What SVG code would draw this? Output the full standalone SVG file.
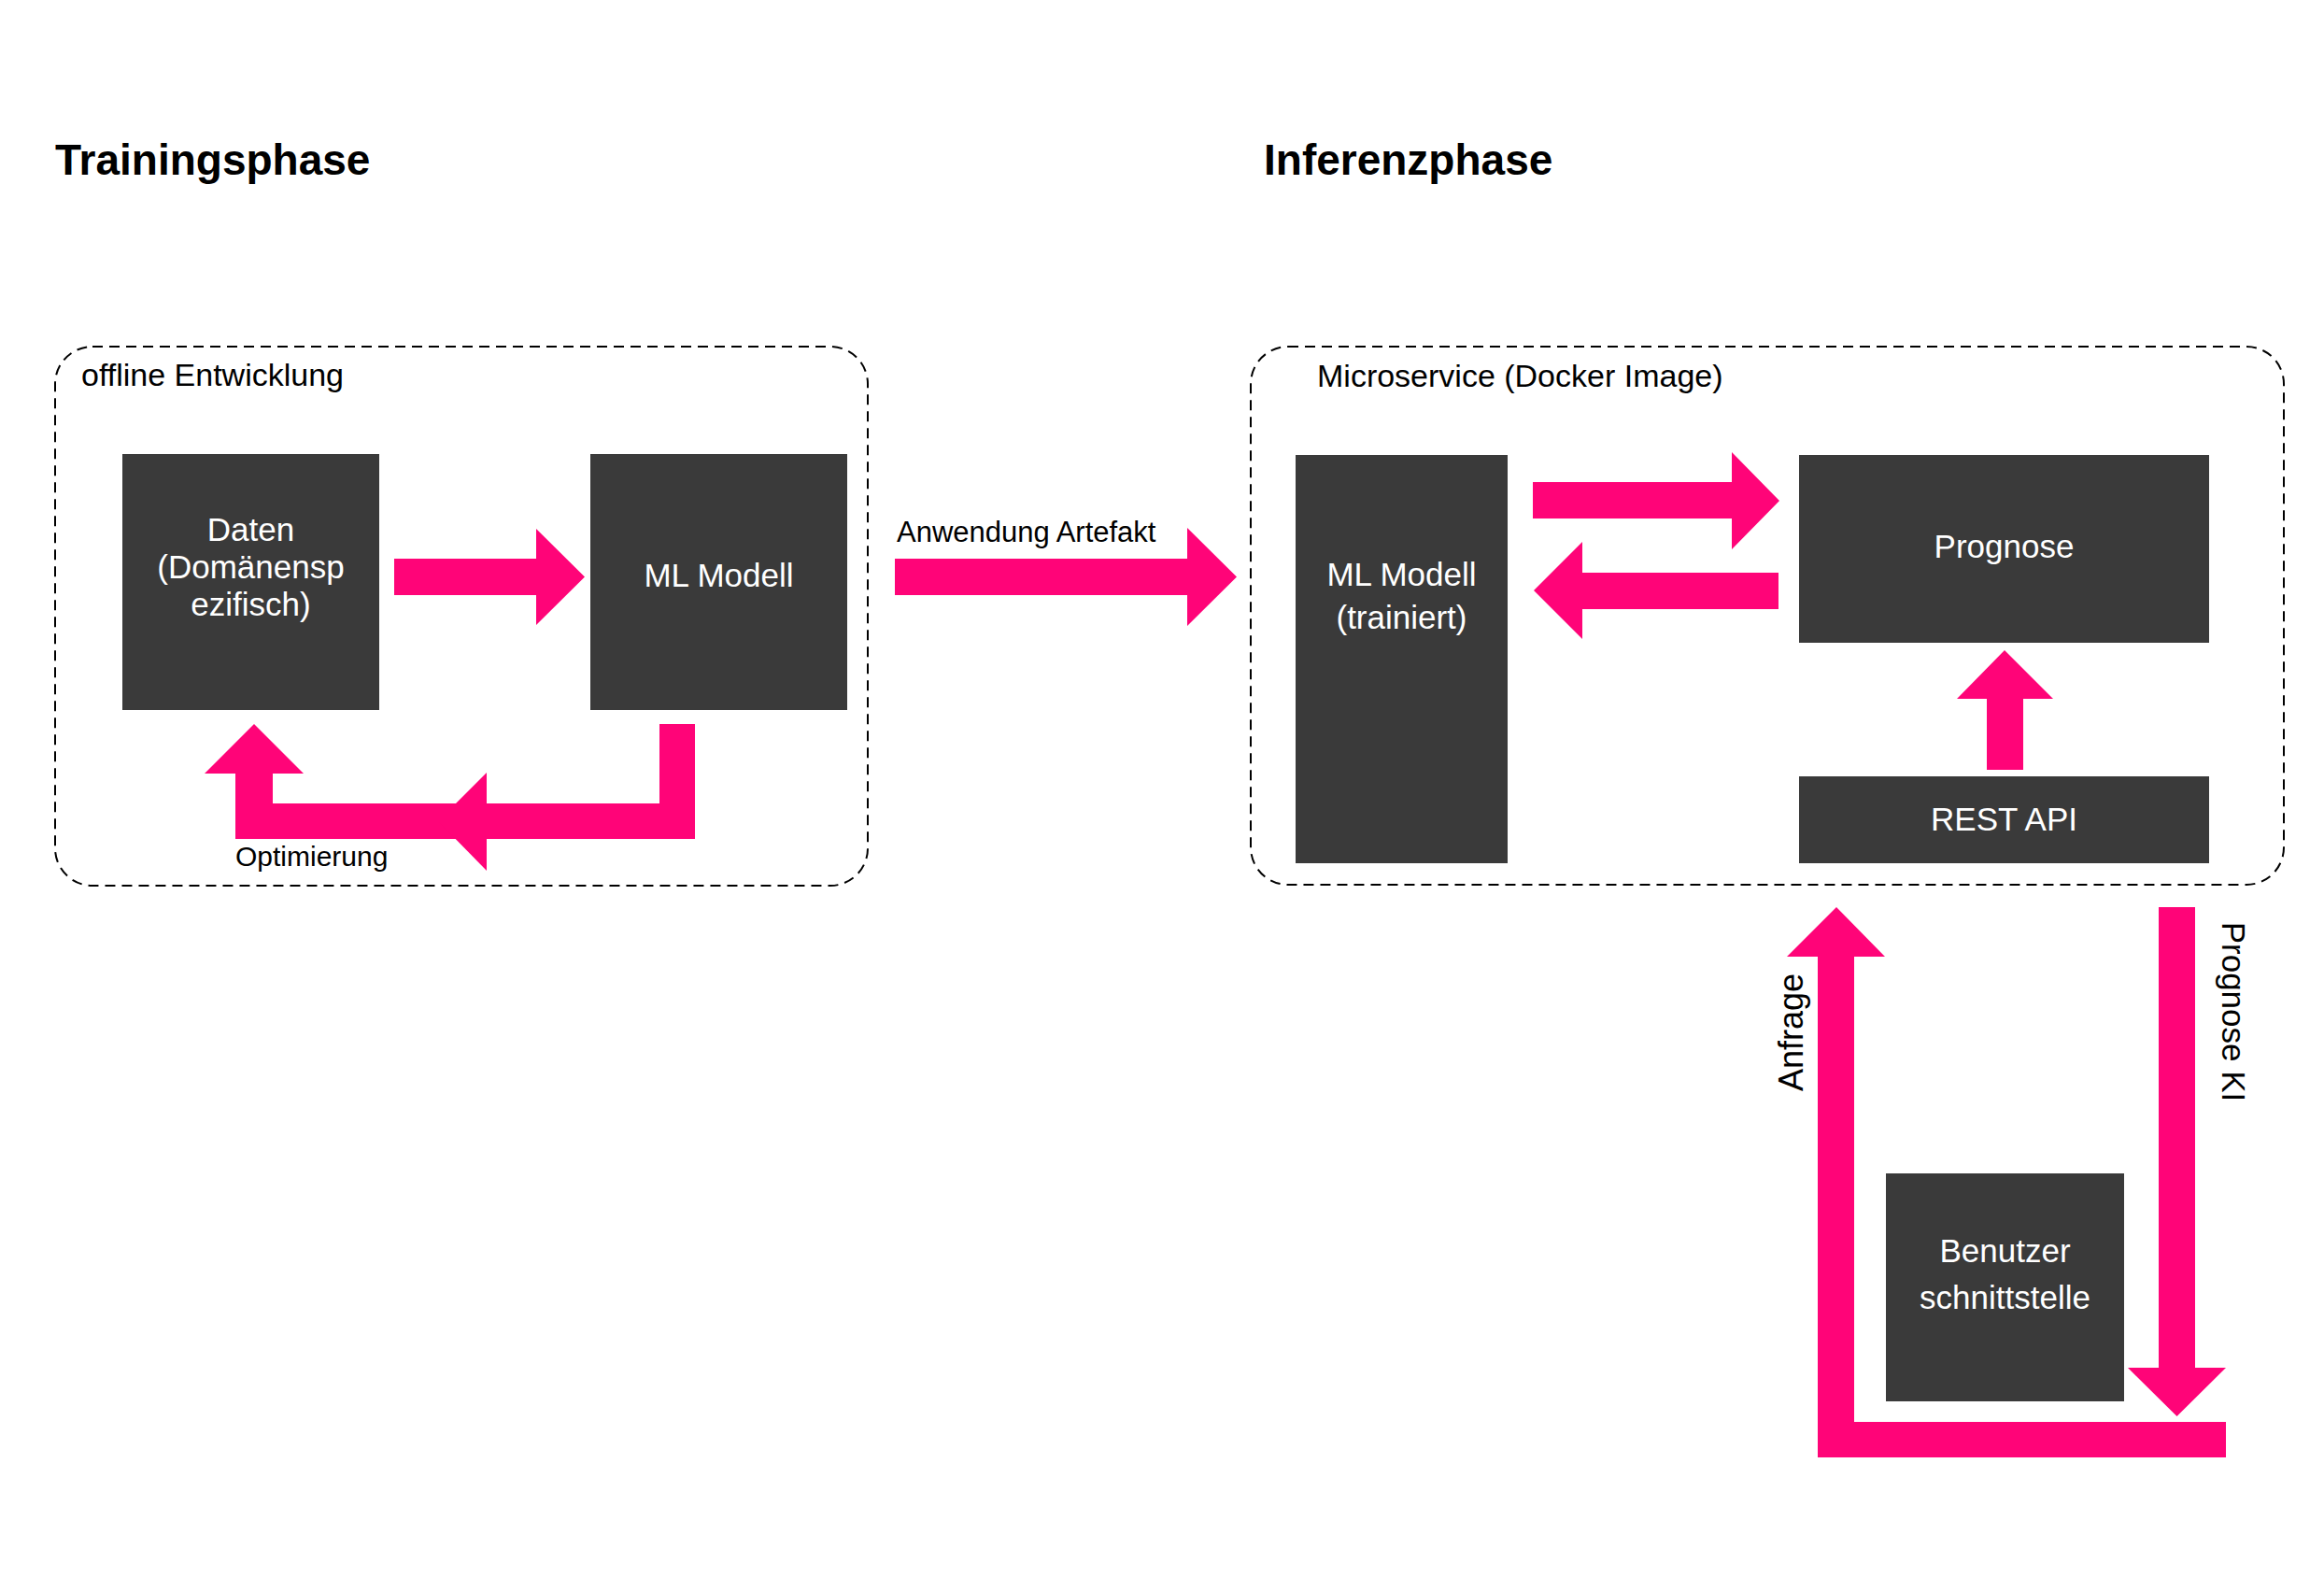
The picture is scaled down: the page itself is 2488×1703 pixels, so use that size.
<svg xmlns="http://www.w3.org/2000/svg" width="2488" height="1703" viewBox="0 0 2488 1703">
<style>
.title{font-family:"Liberation Sans",Arial,sans-serif;font-weight:bold;font-size:46px;fill:#000}
.lbl{font-family:"Liberation Sans",Arial,sans-serif;font-size:34px;fill:#000}
.small{font-family:"Liberation Sans",Arial,sans-serif;font-size:31px;fill:#000}
.node rect{fill:#3a3a3a}
.node text{font-family:"Liberation Sans",Arial,sans-serif;font-size:35px;fill:#fff;text-anchor:middle}
.container{fill:none;stroke:#000;stroke-width:2;stroke-dasharray:11 7}
.arrow{fill:#ff0478}
</style>
<rect width="2488" height="1703" fill="#fff"/>
<text class="title" x="59" y="187">Trainingsphase</text>
<text class="title" x="1353" y="187">Inferenzphase</text>

<g id="container-offline">
<rect class="container" x="59" y="371" width="870" height="577" rx="40" ry="40"/>
<text class="lbl" x="87" y="413">offline Entwicklung</text>
</g>
<g id="container-microservice">
<rect class="container" x="1339" y="371" width="1106" height="576" rx="40" ry="40"/>
<text class="lbl" x="1410" y="414">Microservice (Docker Image)</text>
</g>

<g id="connectors">
<!-- Daten -> ML Modell -->
<polygon class="arrow" points="422,598 574,598 574,566 626,617.5 574,669 574,637 422,637"/>
<!-- Optimierung loop -->
<rect class="arrow" x="706" y="775" width="38" height="123"/>
<rect class="arrow" x="252" y="860" width="492" height="38"/>
<rect class="arrow" x="252" y="828" width="40" height="70"/>
<polygon class="arrow" points="219,828 272,775 325,828"/>
<polygon class="arrow" points="521,827 469,879 521,932"/>
<text class="small" x="252" y="927" style="font-size:30px">Optimierung</text>
<!-- Anwendung Artefakt -->
<polygon class="arrow" points="958,598 1271,598 1271,565 1324,617.5 1271,670 1271,637 958,637"/>
<text class="small" x="960" y="580">Anwendung Artefakt</text>
<!-- ML (trainiert) -> Prognose -->
<polygon class="arrow" points="1641,516 1854,516 1854,484 1905,536 1854,588 1854,555 1641,555"/>
<!-- Prognose -> ML (trainiert) -->
<polygon class="arrow" points="1904,613 1694,613 1694,580 1642,632 1694,684 1694,652 1904,652"/>
<!-- REST API -> Prognose -->
<polygon class="arrow" points="2127,824 2127,748 2095,748 2146,696 2198,748 2166,748 2166,824"/>
<!-- Anfrage loop -->
<polygon class="arrow" points="1946,1560 1946,1024 1913,1024 1966,971 2018,1024 1985,1024 1985,1522 2383,1522 2383,1560"/>
<text class="lbl" transform="translate(1930,1105) rotate(-90)" text-anchor="middle" style="font-size:36px">Anfrage</text>
<!-- Prognose KI -->
<polygon class="arrow" points="2311,971 2350,971 2350,1464 2383,1464 2330.5,1516 2278,1464 2311,1464"/>
<text class="lbl" transform="translate(2379,1083) rotate(90)" text-anchor="middle" style="font-size:35px">Prognose KI</text>
</g>

<g id="node-daten" class="node">
<rect x="131" y="486" width="275" height="274"/>
<text x="268.5" y="579">Daten</text>
<text x="268.5" y="619">(Domänensp</text>
<text x="268.5" y="659">ezifisch)</text>
</g>
<g id="node-ml-modell" class="node">
<rect x="632" y="486" width="275" height="274"/>
<text x="769.5" y="628">ML Modell</text>
</g>
<g id="node-ml-trainiert" class="node">
<rect x="1387" y="487" width="227" height="437"/>
<text x="1500.5" y="627">ML Modell</text>
<text x="1500.5" y="673">(trainiert)</text>
</g>
<g id="node-prognose" class="node">
<rect x="1926" y="487" width="439" height="201"/>
<text x="2145.5" y="597">Prognose</text>
</g>
<g id="node-rest-api" class="node">
<rect x="1926" y="831" width="439" height="93"/>
<text x="2145.5" y="889">REST API</text>
</g>
<g id="node-benutzer" class="node">
<rect x="2019" y="1256" width="255" height="244"/>
<text x="2146.5" y="1351">Benutzer</text>
<text x="2146.5" y="1401">schnittstelle</text>
</g>
</svg>
